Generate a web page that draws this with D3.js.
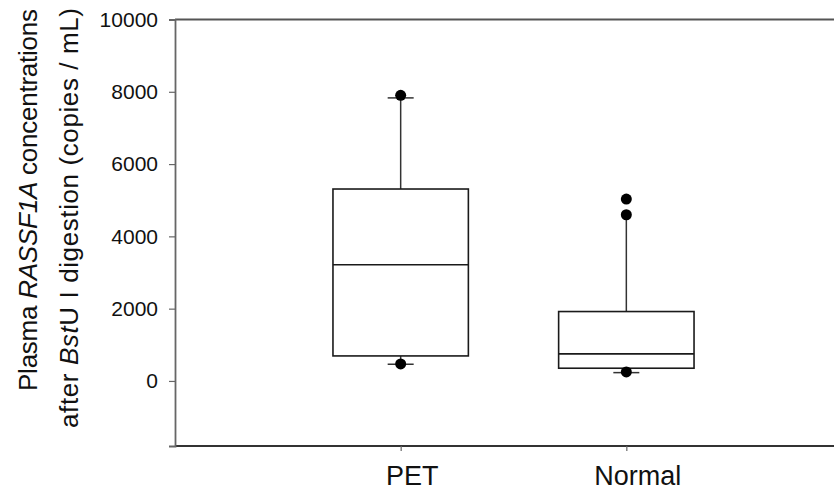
<!DOCTYPE html>
<html>
<head>
<meta charset="utf-8">
<script src="https://cdn.jsdelivr.net/npm/d3@7"></script>
<style>
  html, body { margin: 0; padding: 0; background: #fff; }
  svg { display: block; font-family: "Liberation Sans", Arial, Helvetica, sans-serif; }
</style>
</head>
<body>
<svg id="chart" width="834" height="493"></svg>
<script>
// ---- data ----
const categories = ["PET", "Normal"];
const q1 =        [692, 352];
const median =    [3213, 748];
const q3 =        [5310, 1920];
const whiskerLo = [462, 230];
const whiskerHi = [7831, 4598];
const upperCap =  [true, false];
const lowerCap =  [true, true];
const outliers =  [[7903, 470], [5033, 4598, 250]];
const yTicks =    [0, 2000, 4000, 6000, 8000, 10000];
const yDomain =   [-1800, 10000];

(function () {
// ---- layout ----
const svg = d3.select("#chart");
const mLeft = 175, mRight = 852, mTop = 19.5, mBottom = 446;

const x = d3.scalePoint().domain(categories).range([mLeft, mRight]).padding(1);
const y = d3.scaleLinear().domain(yDomain).range([mBottom, mTop]);
const boxW = x.step() * 0.6;
const capW = 26;

// frame lines (top and bottom run off the right edge)
svg.append("line").attr("x1", mLeft).attr("x2", 834).attr("y1", mTop).attr("y2", mTop)
  .attr("stroke", "#555").attr("stroke-width", 2);
svg.append("line").attr("x1", mLeft).attr("x2", 834).attr("y1", mBottom).attr("y2", mBottom)
  .attr("stroke", "#333").attr("stroke-width", 2.2);

// y axis
const yAxis = d3.axisLeft(y).tickValues(yTicks).tickSize(6).tickPadding(11).tickFormat(d3.format("d"));
const gy = svg.append("g").attr("transform", `translate(${mLeft},0)`).call(yAxis);
gy.select(".domain").attr("stroke", "#666").attr("stroke-width", 1.8);
gy.selectAll(".tick line").attr("stroke", "#666").attr("stroke-width", 1.2);
gy.selectAll(".tick text").attr("font-size", 21).attr("fill", "#111")
  .attr("font-family", "'Liberation Sans', Arial, sans-serif");

// x axis
const xAxis = d3.axisBottom(x).tickSize(5).tickPadding(15);
const gx = svg.append("g").attr("transform", `translate(0,${mBottom})`).call(xAxis);
gx.select(".domain").remove();
gx.selectAll(".tick line").attr("stroke", "#666").attr("stroke-width", 1.2);
gx.selectAll(".tick text").attr("font-size", 27).attr("fill", "#111").attr("dx", 11)
  .attr("font-family", "'Liberation Sans', Arial, sans-serif");

// boxes
const groups = svg.append("g").selectAll("g").data(categories).join("g");
const stroke = "#1a1a1a";
const idx = (d) => categories.indexOf(d);

groups.append("line") // upper whisker
  .attr("x1", (d) => x(d)).attr("x2", (d) => x(d))
  .attr("y1", (d) => y(q3[idx(d)])).attr("y2", (d) => y(whiskerHi[idx(d)]))
  .attr("stroke", "#333").attr("stroke-width", 1.5);
groups.append("line") // lower whisker
  .attr("x1", (d) => x(d)).attr("x2", (d) => x(d))
  .attr("y1", (d) => y(q1[idx(d)])).attr("y2", (d) => y(whiskerLo[idx(d)]))
  .attr("stroke", "#333").attr("stroke-width", 1.5);

groups.filter((d) => upperCap[idx(d)]).append("line")
  .attr("x1", (d) => x(d) - capW / 2).attr("x2", (d) => x(d) + capW / 2)
  .attr("y1", (d) => y(whiskerHi[idx(d)])).attr("y2", (d) => y(whiskerHi[idx(d)]))
  .attr("stroke", "#333").attr("stroke-width", 1.5);
groups.filter((d) => lowerCap[idx(d)]).append("line")
  .attr("x1", (d) => x(d) - capW / 2).attr("x2", (d) => x(d) + capW / 2)
  .attr("y1", (d) => y(whiskerLo[idx(d)])).attr("y2", (d) => y(whiskerLo[idx(d)]))
  .attr("stroke", "#333").attr("stroke-width", 1.5);

groups.append("rect")
  .attr("x", (d) => x(d) - boxW / 2).attr("width", boxW)
  .attr("y", (d) => y(q3[idx(d)])).attr("height", (d) => y(q1[idx(d)]) - y(q3[idx(d)]))
  .attr("fill", "#fff").attr("stroke", stroke).attr("stroke-width", 1.6);

groups.append("line") // median
  .attr("x1", (d) => x(d) - boxW / 2).attr("x2", (d) => x(d) + boxW / 2)
  .attr("y1", (d) => y(median[idx(d)])).attr("y2", (d) => y(median[idx(d)]))
  .attr("stroke", stroke).attr("stroke-width", 1.6);

groups.selectAll("circle")
  .data((d) => outliers[idx(d)].map((v) => ({ c: d, v })))
  .join("circle")
  .attr("cx", (o) => x(o.c)).attr("cy", (o) => y(o.v)).attr("r", 5.5)
  .attr("fill", "#000");

// y axis title (two rotated lines, end-anchored at top)
const title = svg.append("g").attr("font-size", 26).attr("fill", "#111");
const t1 = title.append("text").attr("transform", "translate(37,9) rotate(-90)")
  .attr("text-anchor", "end").attr("textLength", 382).attr("lengthAdjust", "spacing");
t1.append("tspan").text("Plasma ");
t1.append("tspan").attr("font-style", "italic").text("RASSF1A");
t1.append("tspan").text(" concentrations");

const t2 = title.append("text").attr("transform", "translate(78,8) rotate(-90)")
  .attr("text-anchor", "end").attr("textLength", 420).attr("lengthAdjust", "spacing");
t2.append("tspan").text("after ");
t2.append("tspan").attr("font-style", "italic").text("Bst");
t2.append("tspan").text("U I digestion (copies / mL)");
})();
</script>
</body>
</html>
